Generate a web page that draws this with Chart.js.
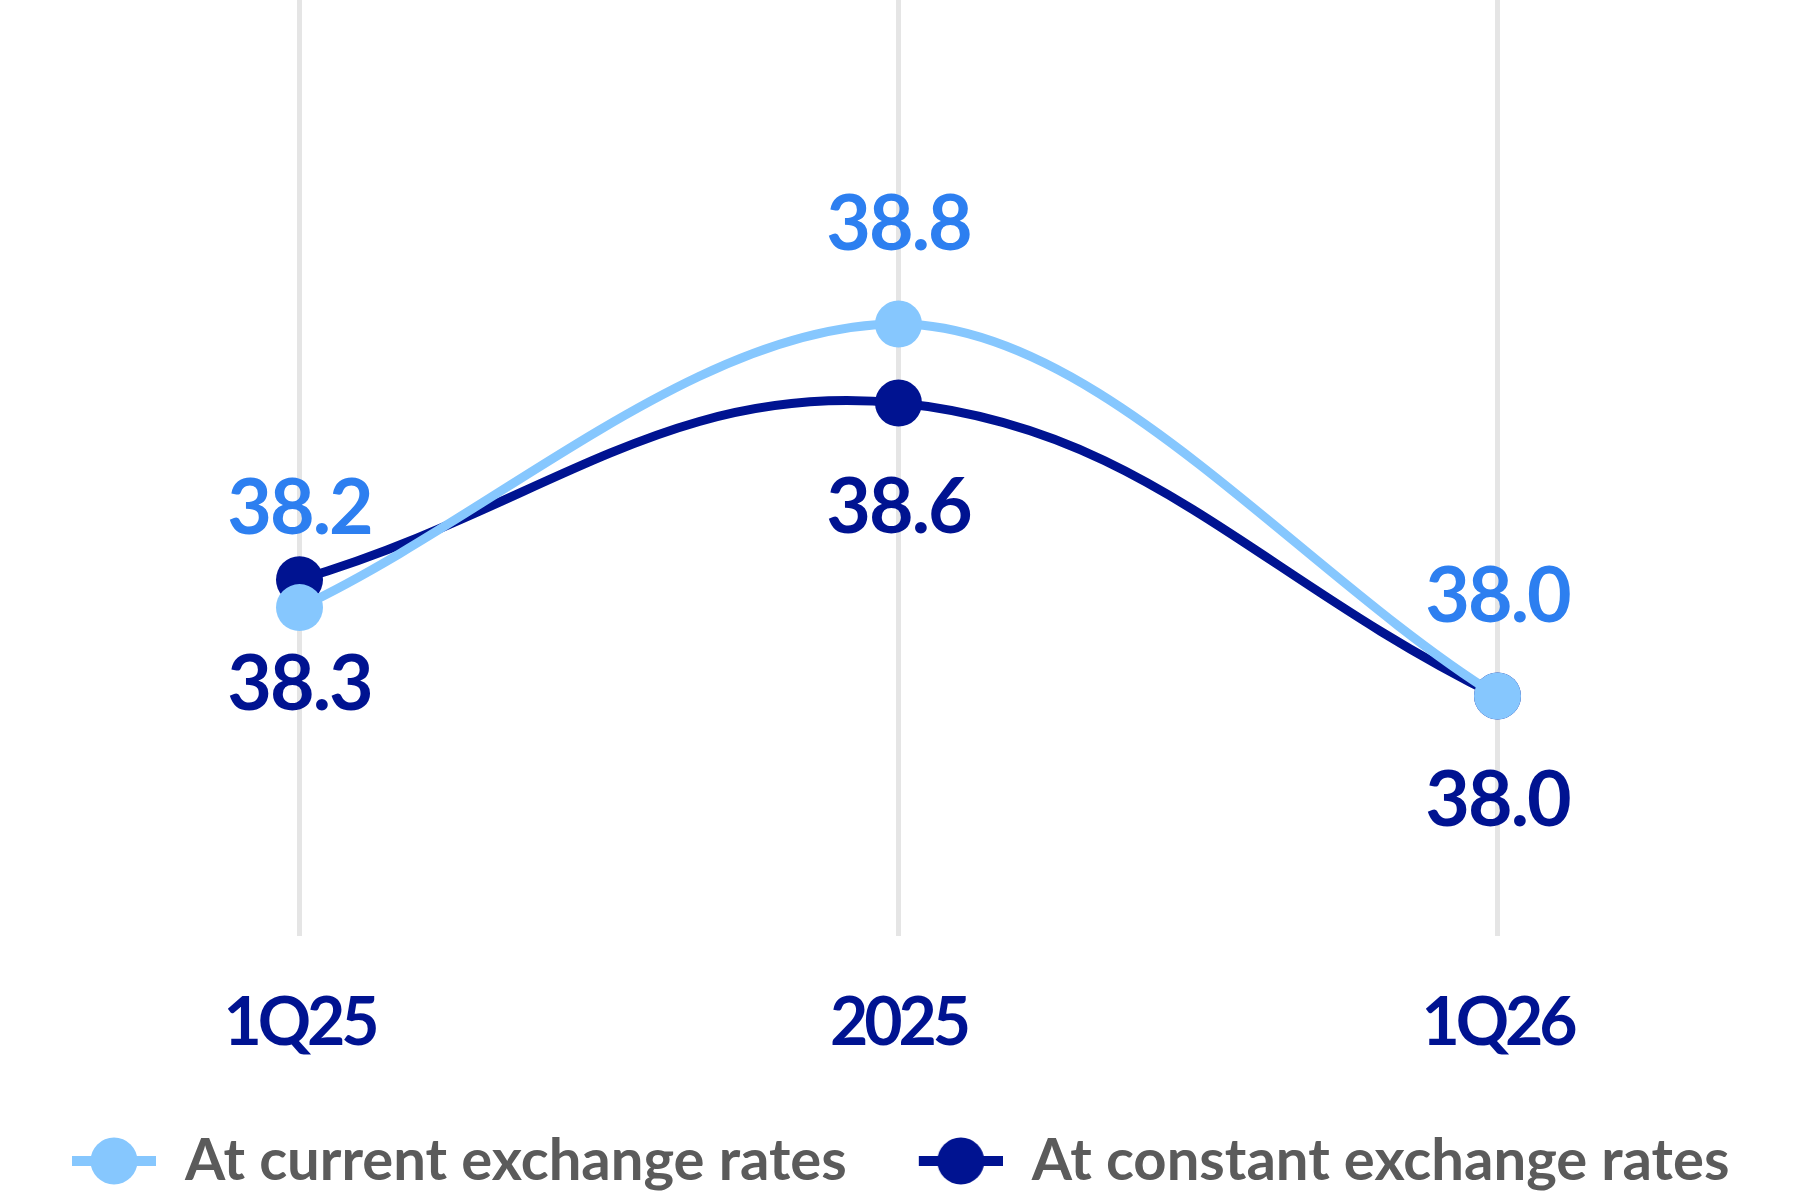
<!DOCTYPE html>
<html>
<head>
<meta charset="utf-8">
<script src="https://cdn.jsdelivr.net/npm/chart.js@4.4.1/dist/chart.umd.min.js"></script>
<style>
  html, body { margin: 0; padding: 0; background: #fff; }
  #wrap { width: 1800px; height: 1200px; }
</style>
</head>
<body>
<div id="wrap"><canvas id="chart" width="1800" height="1200"></canvas></div>
<script>
const categories = ["1Q25", "2025", "1Q26"];
const seriesNames = ["At current exchange rates", "At constant exchange rates"];
const currentValues = [38.19, 38.8, 38.0];
const constantValues = [38.25, 38.63, 38.0];
const currentLabels = ["38.2", "38.8", "38.0"];
const constantLabels = ["38.3", "38.6", "38.0"];

const LIGHT = "#86c7fe";
const NAVY = "#001391";
const LABEL_BLUE = "#2d7ff0";
const FONT = "Lato, 'Noto Sans', sans-serif";

// legend marker: short line with a dot on it (left part left blank as item gap)
const legendMarker = (color) => {
  const c = document.createElement("canvas");
  c.width = 135;
  c.height = 50;
  const g = c.getContext("2d");
  g.fillStyle = color;
  g.fillRect(51, 20, 84, 10);
  g.beginPath();
  g.arc(93, 25, 23.5, 0, Math.PI * 2);
  g.fill();
  return c;
};
const markers = [legendMarker(LIGHT), legendMarker(NAVY)];

// value labels above (current) and below (constant) each point
const valueLabels = {
  id: "valueLabels",
  afterLayout(chart) {
    // tighter tracking on the category labels
    const x = chart.scales.x;
    if (!x._tight) {
      const orig = x.drawLabels;
      x.drawLabels = function (area) {
        this.ctx.save();
        this.ctx.letterSpacing = "-4px";
        orig.call(this, area);
        this.ctx.restore();
      };
      x._tight = true;
    }
  },
  afterDatasetsDraw(chart) {
    const ctx = chart.ctx;
    const sets = [
      { texts: currentLabels, color: LABEL_BLUE, dy: -74 },
      { texts: constantLabels, color: NAVY, dy: 130 }
    ];
    ctx.save();
    ctx.font = "700 77px " + FONT;
    ctx.letterSpacing = "-2px";
    ctx.textAlign = "center";
    ctx.textBaseline = "alphabetic";
    sets.forEach((s, i) => {
      chart.getDatasetMeta(i).data.forEach((pt, j) => {
        ctx.fillStyle = s.color;
        ctx.fillText(s.texts[j], pt.x, pt.y + s.dy);
      });
    });
    ctx.restore();
  }
};

new Chart(document.getElementById("chart"), {
  type: "line",
  data: {
    labels: categories,
    datasets: [
      {
        label: seriesNames[0],
        data: currentValues,
        borderColor: LIGHT,
        backgroundColor: LIGHT,
        pointBackgroundColor: LIGHT,
        borderWidth: 9,
        pointRadius: 23.5,
        pointBorderWidth: 0,
        cubicInterpolationMode: "monotone"
      },
      {
        label: seriesNames[1],
        data: constantValues,
        borderColor: NAVY,
        backgroundColor: NAVY,
        pointBackgroundColor: NAVY,
        borderWidth: 9,
        pointRadius: 23.5,
        pointBorderWidth: 0,
        tension: 0.4
      }
    ]
  },
  options: {
    responsive: false,
    animation: false,
    devicePixelRatio: 1,
    layout: { autoPadding: false, padding: { left: 0, right: 3, top: 0, bottom: 0 } },
    scales: {
      x: {
        offset: true,
        grid: { offset: false, color: "#e5e5e5", lineWidth: 5, drawTicks: false },
        border: { display: false },
        ticks: {
          padding: 48,
          color: NAVY,
          font: { family: FONT, size: 66, weight: "700" }
        }
      },
      y: { display: false, min: 37.484, max: 39.497 }
    },
    plugins: {
      legend: {
        position: "bottom",
        align: "start",
        labels: {
          usePointStyle: true,
          pointStyleWidth: 135,
          padding: 21,
          color: "#5b5b5b",
          font: { family: FONT, size: 58, weight: "700" },
          generateLabels: (chart) =>
            Chart.defaults.plugins.legend.labels.generateLabels(chart)
              .map((item, i) => ({ ...item, pointStyle: markers[i] }))
        }
      },
      tooltip: { enabled: false }
    }
  },
  plugins: [valueLabels]
});
</script>
</body>
</html>
